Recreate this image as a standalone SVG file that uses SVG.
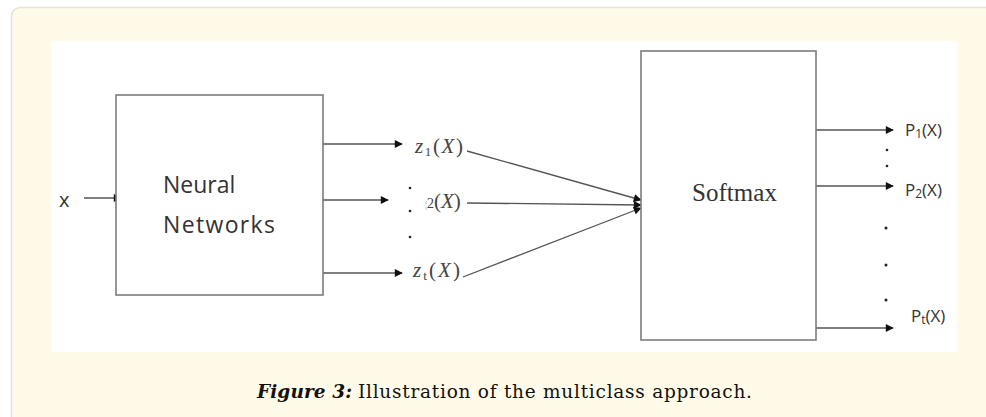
<svg xmlns="http://www.w3.org/2000/svg" width="986" height="417" viewBox="0 0 986 417">
  <defs>
    <marker id="head" viewBox="0 0 10 10" refX="9" refY="5" markerWidth="9" markerHeight="8" markerUnits="userSpaceOnUse" orient="auto">
      <path d="M0,0 L10,5 L0,10 z" fill="#111"/>
    </marker>
    <style>
      .box { fill: #fff; stroke: #7c7c7c; stroke-width: 1.6; }
      .wire { fill: none; stroke: #555; stroke-width: 1.3; marker-end: url(#head); }
      .sans { font-family: "Open Sans", "Liberation Sans", sans-serif; fill: #333; }
      .math { font-family: "Liberation Serif", "DejaVu Serif", serif; fill: #444; font-style: italic; }
      .dot { fill: #222; }
      .cap { font-family: "DejaVu Serif", "Liberation Serif", serif; font-size: 18.5px; fill: #111; }
    </style>
  </defs>

  <!-- cream panel and white figure area -->
  <rect x="11.5" y="7.5" width="990" height="420" rx="9" fill="#fffbe8" stroke="#e6e3d6" stroke-width="1.5"/>
  <rect x="51" y="41" width="906" height="311" fill="#ffffff"/>

  <!-- connectors -->
  <g id="connectors">
    <line class="wire" x1="84" y1="198" x2="121" y2="198"/>
    <line class="wire" x1="323" y1="144" x2="402" y2="144"/>
    <line class="wire" x1="323" y1="200" x2="388" y2="200"/>
    <line class="wire" x1="323" y1="273" x2="402" y2="273"/>
    <line class="wire" x1="467" y1="151" x2="641" y2="200"/>
    <line class="wire" x1="467" y1="203" x2="641" y2="205"/>
    <line class="wire" x1="463" y1="277" x2="641" y2="208"/>
    <line class="wire" x1="816" y1="130" x2="893" y2="130"/>
    <line class="wire" x1="816" y1="186" x2="893" y2="186"/>
    <line class="wire" x1="816" y1="328" x2="893" y2="328"/>
  </g>

  <!-- input -->
  <g id="input-x">
    <text class="sans" x="59" y="207" font-size="20">x</text>
  </g>

  <!-- neural network block -->
  <g id="neural-networks">
    <rect class="box" x="116" y="95" width="207" height="200"/>
    <text class="sans" x="163" y="193" font-size="23">Neural</text>
    <text class="sans" x="163" y="233" font-size="23" textLength="112">Networks</text>
  </g>

  <!-- intermediate scores -->
  <g id="score-1">
    <text class="math" x="415" y="153" font-size="21" textLength="48">z<tspan font-style="normal" font-size="13" dy="3">1</tspan><tspan font-style="normal" dy="-3">(</tspan>X<tspan font-style="normal">)</tspan></text>
  </g>
  <g id="score-2">
    <text class="math" x="425" y="208" font-size="21"><tspan font-style="normal" font-size="10" fill="#888">¦</tspan><tspan font-style="normal" font-size="14">2</tspan><tspan font-style="normal">(</tspan>X<tspan font-style="normal">)</tspan></text>
  </g>
  <g id="score-t">
    <text class="math" x="413" y="277" font-size="21" textLength="47">z<tspan font-style="normal" font-size="13" dy="3">t</tspan><tspan font-style="normal" dy="-3">(</tspan>X<tspan font-style="normal">)</tspan></text>
  </g>
  <g id="score-dots">
    <circle class="dot" cx="410" cy="188" r="1.3"/>
    <circle class="dot" cx="410" cy="211" r="1.3"/>
    <circle class="dot" cx="410" cy="237" r="1.3"/>
  </g>

  <!-- softmax block -->
  <g id="softmax">
    <rect class="box" x="641" y="51" width="175" height="289"/>
    <text x="692" y="201" font-family="Liberation Serif, serif" font-size="25" fill="#333" textLength="85">Softmax</text>
  </g>

  <!-- output probabilities -->
  <g id="prob-1">
    <text class="sans" x="905" y="136" font-size="17">P<tspan font-size="12" dy="2">1</tspan><tspan dy="-2">(X)</tspan></text>
  </g>
  <g id="prob-2">
    <text class="sans" x="905" y="196" font-size="17">P<tspan font-size="12" dy="2">2</tspan><tspan dy="-2">(X)</tspan></text>
  </g>
  <g id="prob-t">
    <text class="sans" x="911" y="322" font-size="17">P<tspan font-size="12" dy="2">t</tspan><tspan dy="-2">(X)</tspan></text>
  </g>
  <g id="prob-dots">
    <circle class="dot" cx="887" cy="150" r="1.3"/>
    <circle class="dot" cx="887" cy="166" r="1.3"/>
    <circle class="dot" cx="886" cy="228" r="1.5"/>
    <circle class="dot" cx="886" cy="265" r="1.5"/>
    <circle class="dot" cx="886" cy="300" r="1.5"/>
  </g>

  <!-- caption -->
  <text class="cap" x="257" y="398"><tspan font-weight="bold" font-style="italic" textLength="95">Figure 3:</tspan><tspan x="358" textLength="394">Illustration of the multiclass approach.</tspan></text>
</svg>
